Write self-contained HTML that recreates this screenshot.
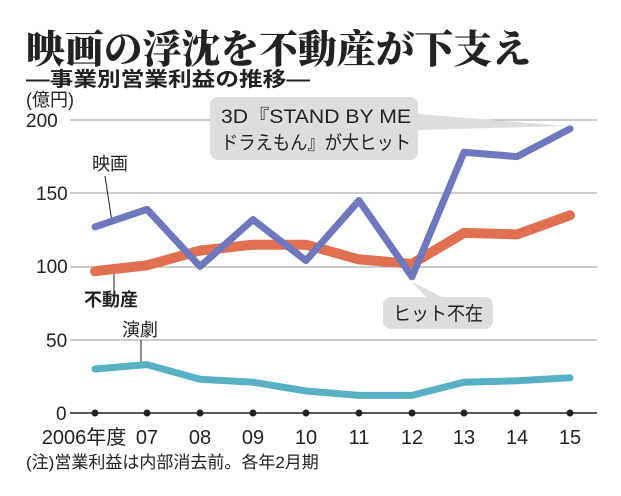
<!DOCTYPE html>
<html><head><meta charset="utf-8"><style>
body{margin:0;background:#fff;width:621px;height:491px;overflow:hidden}
svg text{font-family:"Liberation Sans","Noto Sans CJK JP",sans-serif;fill:#222}
</style></head><body>
<svg width="621" height="491" viewBox="0 0 621 491">
<text x="26" y="63" style="font-family:'Liberation Serif','Noto Serif CJK SC',serif;font-weight:900" font-size="39" textLength="505" lengthAdjust="spacingAndGlyphs">映画の浮沈を不動産が下支え</text>
<text x="26" y="86" font-size="20" font-weight="bold" textLength="284" lengthAdjust="spacingAndGlyphs">―事業別営業利益の推移―</text>
<text x="26" y="106" font-size="18">(億円)</text>
<g font-size="19">
<text x="26" y="127">200</text><text x="36" y="200">150</text><text x="36" y="273">100</text><text x="46" y="347">50</text><text x="56" y="420">0</text>
</g>
<g stroke="#999" stroke-width="1">
<line x1="70" y1="120" x2="597" y2="120"/><line x1="70" y1="193" x2="597" y2="193"/><line x1="70" y1="267" x2="597" y2="267"/><line x1="70" y1="340" x2="597" y2="340"/>
</g>
<line x1="70" y1="413" x2="597" y2="413" stroke="#222" stroke-width="1.5"/>
<g fill="#222">
<circle cx="95" cy="413" r="3.5"/><circle cx="147" cy="413" r="3.5"/><circle cx="200" cy="413" r="3.5"/><circle cx="253" cy="413" r="3.5"/><circle cx="306" cy="413" r="3.5"/><circle cx="359" cy="413" r="3.5"/><circle cx="412" cy="413" r="3.5"/><circle cx="464" cy="413" r="3.5"/><circle cx="517" cy="413" r="3.5"/><circle cx="570" cy="413" r="3.5"/>
</g>
<g font-size="20" text-anchor="middle">
<text x="84" y="444">2006年度</text><text x="147" y="444">07</text><text x="200" y="444">08</text><text x="253" y="444">09</text><text x="306" y="444">10</text><text x="359" y="444">11</text><text x="412" y="444">12</text><text x="464" y="444">13</text><text x="517" y="444">14</text><text x="570" y="444">15</text>
</g>
<text x="26" y="468" font-size="17">(注)営業利益は内部消去前。各年2月期</text>
<!-- callouts -->
<path d="M218 97 h192 a8 8 0 0 1 8 8 v9 l148 12 l-148 4 v22 a8 8 0 0 1 -8 8 h-192 a8 8 0 0 1 -8 -8 v-47 a8 8 0 0 1 8 -8z" fill="#ddd"/>
<text x="221" y="123" font-size="19" textLength="190" lengthAdjust="spacingAndGlyphs">3D『STAND BY ME</text>
<text x="221" y="149" font-size="19" textLength="190" lengthAdjust="spacingAndGlyphs">ドラえもん』が大ヒット</text>
<path d="M412 282 l30 15 h43 a8 8 0 0 1 8 8 v16 a8 8 0 0 1 -8 8 h-94 a8 8 0 0 1 -8 -8 v-16 a8 8 0 0 1 8 -8 h35z" fill="#ddd"/>
<text x="393" y="320" font-size="19" textLength="90" lengthAdjust="spacingAndGlyphs">ヒット不在</text>
<!-- labels -->
<text x="92" y="170" font-size="18">映画</text>
<line x1="105" y1="176" x2="112" y2="222" stroke="#222" stroke-width="1"/>
<text x="84" y="306" font-size="18" font-weight="bold">不動産</text>
<line x1="114" y1="272" x2="114" y2="292" stroke="#222" stroke-width="1"/>
<text x="122" y="336" font-size="18">演劇</text>
<line x1="141" y1="340" x2="141" y2="364" stroke="#222" stroke-width="1"/>
<!-- series -->
<g fill="none" stroke-linejoin="round" stroke-linecap="round">
<polyline stroke="#e07050" stroke-width="10" points="95,271.2 147,265.3 200,250.6 253,244.7 306,244.7 359,259.4 412,263.8 464,232.9 517,234.4 570,215.3"/>
<polyline stroke="#58b0c4" stroke-width="7" points="95,369 147,364.6 200,379.3 253,382.2 306,391 359,395.4 412,395.4 464,382.2 517,380.8 570,377.8"/>
<polyline stroke="#6f78be" stroke-width="7" points="95,226.9 147,209.3 200,266.5 253,219.6 306,260.6 359,200.5 412,276.8 464,152.2 517,156.6 570,128.8"/>
</g>
</svg>
</body></html>
